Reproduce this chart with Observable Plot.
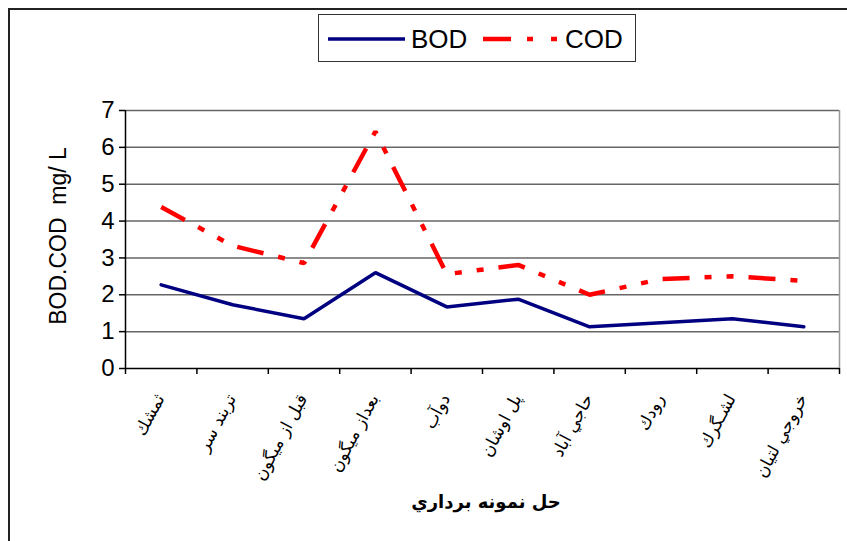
<!DOCTYPE html>
<html>
<head>
<meta charset="utf-8">
<script src="https://cdn.jsdelivr.net/npm/d3@7"></script>
<script src="https://cdn.jsdelivr.net/npm/@observablehq/plot@0.6"></script>
<style>
  html, body { margin: 0; padding: 0; background: #fff; }
  body { width: 847px; height: 541px; position: relative; overflow: hidden; font-family: "Liberation Sans", Arial, "DejaVu Sans", sans-serif; }
  #frame { position: absolute; left: 8px; top: 8px; width: 900px; height: 600px; border-top: 2px solid #222; border-left: 2px solid #222; box-sizing: border-box; }
  #chart { position: absolute; left: 0; top: 0; }
  #legend { position: absolute; left: 318px; top: 14px; width: 318px; height: 48px; border: 1.5px solid #333; box-sizing: border-box; background: #fff; }
  #ylabel { position: absolute; left: 58px; top: 236px; transform: translate(-50%, -50%) rotate(-90deg); font-size: 23px; white-space: pre; color: #000; }
  #xtitle { position: absolute; left: 486px; top: 501px; transform: translate(-50%, -50%); font-size: 18px; font-weight: bold; white-space: nowrap; font-family: "DejaVu Sans", "Liberation Sans", sans-serif; direction: rtl; }
</style>
</head>
<body>
<div id="frame"></div>
<div id="chart"></div>
<div id="legend"></div>
<div id="ylabel"></div>
<div id="xtitle"></div>
<script>
const categories = ["ثمشك", "تربند سر", "قبل از ميگون", "بعداز ميگون", "دوآب", "پل اوشان", "حاجي آباد", "رودك", "لشـگرك", "خروجي لتيان"];
const bod = [2.27, 1.73, 1.35, 2.6, 1.67, 1.88, 1.13, 1.24, 1.35, 1.13];
const cod = [4.38, 3.33, 2.86, 6.43, 2.56, 2.81, 2.0, 2.43, 2.5, 2.38];
const seriesNames = ["BOD", "COD"];
const yTicks = [0, 1, 2, 3, 4, 5, 6, 7];
const yLabelText = "BOD.COD  mg/ L";
const xTitleText = "حل نمونه برداري";

const seriesStyle = {
  BOD: {stroke: "#000080", width: 3.5, dash: null},
  COD: {stroke: "#ff0000", width: 4.5, dash: "27,15,7,15,7,15"}
};

const rows = [];
categories.forEach((c, i) => {
  rows.push({series: "BOD", idx: i + 0.5, cat: c, value: bod[i]});
  rows.push({series: "COD", idx: i + 0.5, cat: c, value: cod[i]});
});
const catRows = categories.map((c, i) => ({cat: c, idx: i + 0.5}));

const chart = Plot.plot({
  width: 847,
  height: 541,
  marginLeft: 125,
  marginRight: 8,
  marginTop: 110,
  marginBottom: 173,
  style: {fontFamily: "'Liberation Sans', Arial, sans-serif", background: "transparent", color: "#000"},
  x: {domain: [0, categories.length], ticks: d3.range(categories.length + 1), tickFormat: () => "", tickSize: 6, label: null},
  y: {domain: [0, 7], ticks: yTicks, tickFormat: d3.format("d"), tickSize: 6, tickPadding: 5, label: null},
  marks: [
    Plot.ruleY(yTicks.filter(d => d > 0), {stroke: "#666", strokeWidth: 1.5}),
    Plot.ruleX([categories.length], {stroke: "#999", strokeWidth: 1.5}),
    Plot.ruleX([0], {stroke: "#000", strokeWidth: 1.5}),
    Plot.ruleY([0], {stroke: "#000", strokeWidth: 1.5}),
    Plot.line(rows.filter(d => d.series === "COD"), {x: "idx", y: "value", stroke: seriesStyle.COD.stroke, strokeWidth: seriesStyle.COD.width, strokeDasharray: seriesStyle.COD.dash, strokeLinecap: "butt", strokeLinejoin: "miter"}),
    Plot.line(rows.filter(d => d.series === "BOD"), {x: "idx", y: "value", stroke: seriesStyle.BOD.stroke, strokeWidth: seriesStyle.BOD.width, strokeLinejoin: "miter"}),
    Plot.text(catRows, {x: "idx", y: () => 0, text: "cat", rotate: -62, textAnchor: "end", dy: 27, dx: -1, fontSize: 17, fontFamily: "'DejaVu Sans', sans-serif", fill: "#000"})
  ]
});
chart.querySelectorAll("g").forEach(g => {
  const lab = g.getAttribute("aria-label") || "";
  if (lab.startsWith("y-axis")) {
    g.setAttribute("font-size", "24");
    g.querySelectorAll("text").forEach(t => t.setAttribute("font-size", "24"));
  }
  if (lab.startsWith("x-axis") || lab.startsWith("y-axis")) {
    g.querySelectorAll("line, path").forEach(l => { l.setAttribute("stroke", "#000"); l.setAttribute("stroke-width", "1.5"); });
  }
});
document.getElementById("chart").appendChild(chart);

// legend
const ns = "http://www.w3.org/2000/svg";
const lg = document.createElementNS(ns, "svg");
lg.setAttribute("width", 316); lg.setAttribute("height", 46);
const legendPos = {BOD: {x1: 9, x2: 86, tx: 92}, COD: {x1: 164, x2: 240, tx: 246}};
seriesNames.forEach(name => {
  const p = legendPos[name], s = seriesStyle[name];
  const ln = document.createElementNS(ns, "line");
  ln.setAttribute("x1", p.x1); ln.setAttribute("x2", p.x2);
  ln.setAttribute("y1", 24); ln.setAttribute("y2", 24);
  ln.setAttribute("stroke", s.stroke); ln.setAttribute("stroke-width", s.width);
  if (s.dash) ln.setAttribute("stroke-dasharray", "28,16,6,18,6,20");
  lg.appendChild(ln);
  const tx = document.createElementNS(ns, "text");
  tx.setAttribute("x", p.tx); tx.setAttribute("y", 33);
  tx.setAttribute("font-size", 26);
  tx.setAttribute("font-family", "'Liberation Sans', Arial, sans-serif");
  tx.textContent = name;
  lg.appendChild(tx);
});
document.getElementById("legend").appendChild(lg);
document.getElementById("ylabel").textContent = yLabelText;
document.getElementById("xtitle").textContent = xTitleText;
</script>
</body>
</html>
